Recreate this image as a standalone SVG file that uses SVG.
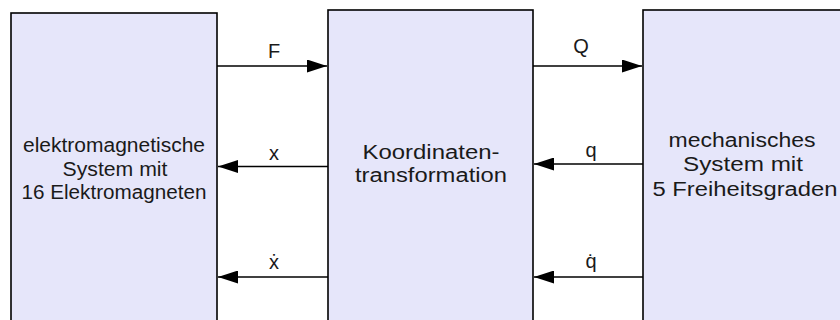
<svg xmlns="http://www.w3.org/2000/svg" width="840" height="320" viewBox="0 0 840 320">
<defs>
<style>
.box{fill:#e6e6fa;stroke:#000;stroke-width:1.6}
.t{font-family:"Liberation Sans",Arial,sans-serif;font-size:20px;fill:#1a1a1a;text-anchor:middle}
.l{font-family:"Liberation Sans",Arial,sans-serif;font-size:20px;fill:#1a1a1a;text-anchor:middle}
.c{stroke:#000;stroke-width:1.6;fill:none;marker-end:url(#ah)}
</style>
<marker id="ah" markerUnits="userSpaceOnUse" viewBox="0 0 20 13" refX="20" refY="6.5" markerWidth="20" markerHeight="13" orient="auto">
<path d="M0,0 L20,6.5 L0,13 Z" fill="#000"/>
</marker>
</defs>
<rect width="840" height="320" fill="#fff"/>
<g id="node-em">
<rect class="box" x="11" y="13" width="206" height="320"/>
<text class="t" x="114" y="152" textLength="182" lengthAdjust="spacingAndGlyphs">elektromagnetische</text>
<text class="t" x="115" y="176" textLength="105" lengthAdjust="spacingAndGlyphs">System mit</text>
<text class="t" x="114" y="199" textLength="185" lengthAdjust="spacingAndGlyphs">16 Elektromagneten</text>
</g>
<g id="node-kt">
<rect class="box" x="328" y="10" width="205" height="320"/>
<text class="t" x="431" y="159" textLength="137" lengthAdjust="spacingAndGlyphs">Koordinaten-</text>
<text class="t" x="431" y="182" textLength="152" lengthAdjust="spacingAndGlyphs">transformation</text>
</g>
<g id="node-mech">
<rect class="box" x="643" y="10" width="210" height="320"/>
<text class="t" x="742" y="147" textLength="147" lengthAdjust="spacingAndGlyphs">mechanisches</text>
<text class="t" x="743" y="171" textLength="120" lengthAdjust="spacingAndGlyphs">System mit</text>
<text class="t" x="745" y="196" textLength="185" lengthAdjust="spacingAndGlyphs">5 Freiheitsgraden</text>
</g>
<g id="connectors">
<line class="c" x1="217" y1="66" x2="327" y2="66"/>
<line class="c" x1="328" y1="166.5" x2="218" y2="166.5"/>
<line class="c" x1="328" y1="277" x2="218" y2="277"/>
<line class="c" x1="533" y1="66" x2="642" y2="66"/>
<line class="c" x1="643" y1="164" x2="534" y2="164"/>
<line class="c" x1="643" y1="277" x2="534" y2="277"/>
<text class="l" x="274" y="58">F</text>
<text class="l" x="274" y="160">x</text>
<text class="l" x="274" y="269">ẋ</text>
<text class="l" x="581" y="53">Q</text>
<text class="l" x="591" y="157">q</text>
<text class="l" x="591" y="268">q̇</text>
</g>
</svg>
